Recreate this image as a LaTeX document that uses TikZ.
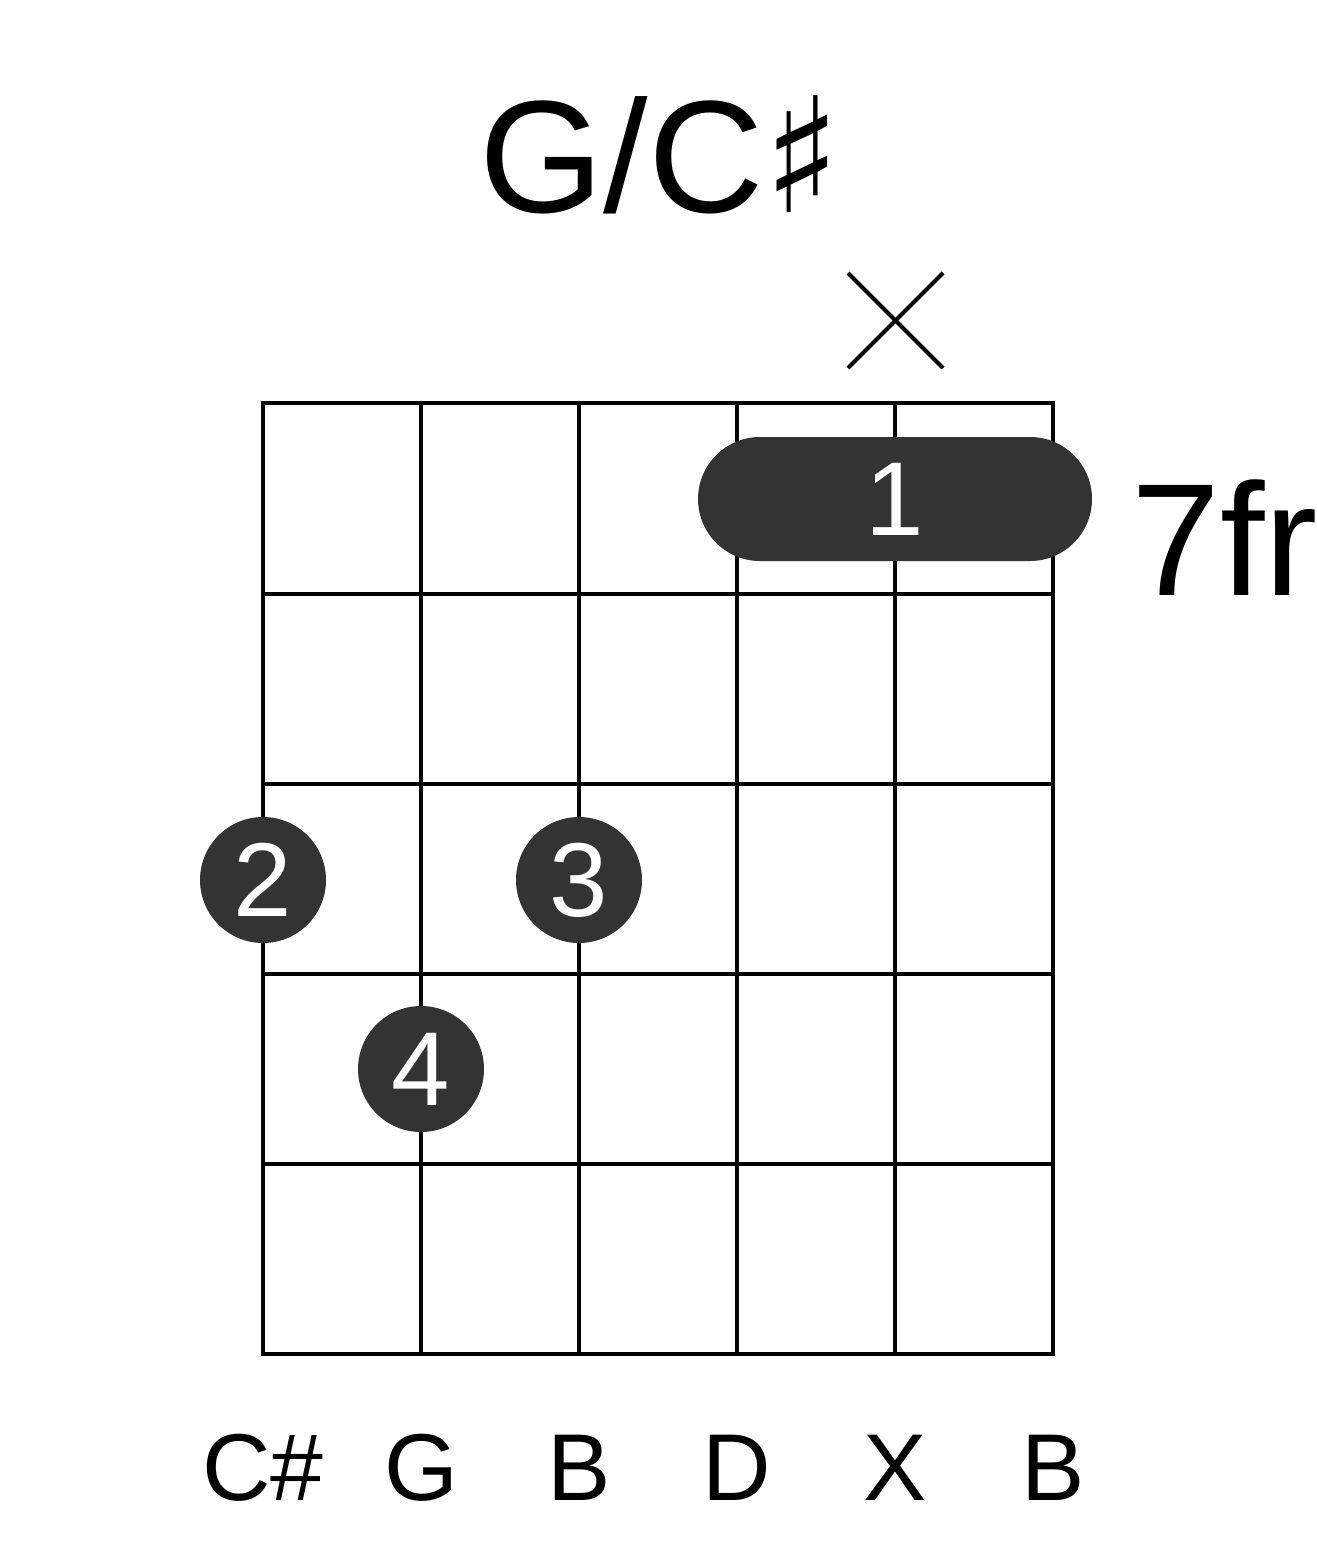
\documentclass[tikz,border=0pt]{standalone}
\usepackage{fontspec}
\setmainfont{Liberation Sans}
\newfontfamily\djv{DejaVu Sans}
\usetikzlibrary{shapes.misc}
\definecolor{dot}{HTML}{333333}
\begin{document}
\begin{tikzpicture}[x=1pt,y=-1pt,
  gridline/.style={line width=4pt},
  fingerdot/.style={circle,fill=dot,minimum size=126pt,inner sep=0pt,text=white,font=\fontsize{105}{105}\selectfont},
  lbl/.style={font=\fontsize{95}{95}\selectfont}]
\useasboundingbox (0,0) rectangle (1317,1551);
\foreach \x in {263,421,579,737,895,1053} \draw[gridline] (\x,403) -- (\x,1354);
\foreach \y in {403,594,784,974,1164,1354} \draw[gridline] (261,\y) -- (1055,\y);
\node[rounded rectangle,fill=dot,minimum width=394pt,minimum height=124pt,inner sep=0pt] (barre) at (895,499) {};
\node[text=white,font=\fontsize{105}{105}\selectfont] (f1) at (895,499) {1};
\node[fingerdot] (f2) at (263,880) {2};
\node[fingerdot] (f3) at (579,880) {3};
\node[fingerdot] (f4) at (421,1069) {4};
\coordinate (xa) at (848,273); \coordinate (xb) at (943,368);
\coordinate (xc) at (848,368); \coordinate (xd) at (943,273);
\draw[line width=4pt] (xa) -- (xb); \draw[line width=4pt] (xc) -- (xd);
\node[font=\fontsize{160}{160}\selectfont] (title) at (660,155) {G/C{\djv ♯}};
\node[font=\fontsize{160}{160}\selectfont,anchor=west] (fr) at (1128,538) {7fr};
\foreach \x/\t [count=\i] in {263/C\#,421/G,579/B,737/D,895/X,1053/B}
  \node[lbl] (s\i) at (\x,1468) {\t};
\end{tikzpicture}
\end{document}
